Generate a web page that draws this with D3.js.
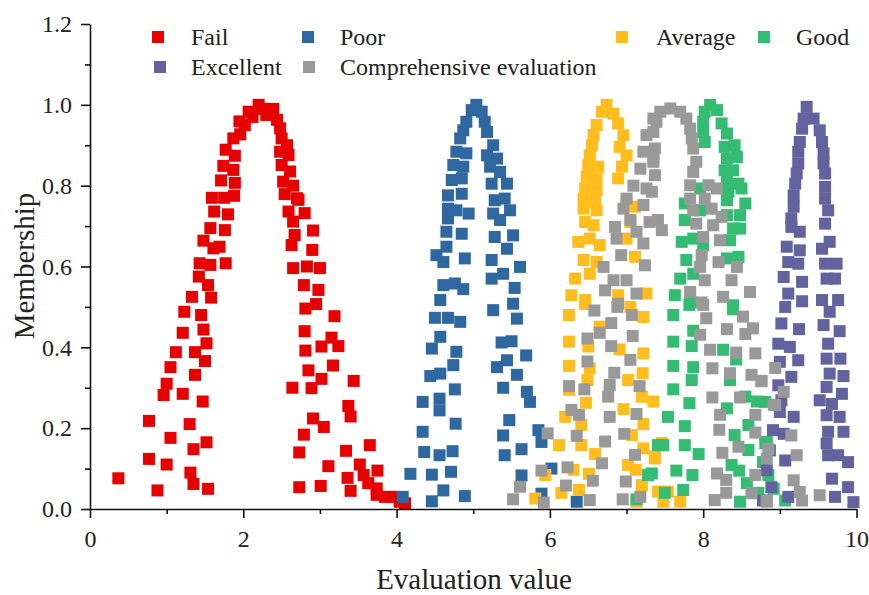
<!DOCTYPE html>
<html><head><meta charset="utf-8">
<script src="https://cdn.jsdelivr.net/npm/d3@7"></script>
<style>body{margin:0;background:#fff}svg{display:block}text{font-family:"Liberation Serif","Times New Roman",serif}</style>
</head><body><svg id="c" width="869" height="595"></svg>
<script>
const seriesNames = ["Fail","Poor","Average","Good","Excellent","Comprehensive evaluation"];
const seriesColors = ["#E60000","#2F67A0","#FFBE1E","#34BD72","#62629E","#999999"];
const xTicks = [0,2,4,6,8,10];
const yTicks = [0,0.2,0.4,0.6,0.8,1.0,1.2];
const xTitle = "Evaluation value";
const yTitle = "Membership";

const failData = [[0.37,0.076],[0.77,0.218],[0.77,0.124],[0.88,0.046],[1.00,0.11],[1.05,0.176],[0.96,0.282],[1.00,0.31],[1.05,0.351],[1.12,0.388],[1.21,0.436],[1.23,0.488],[1.21,0.285],[1.30,0.21],[1.31,0.09],[1.35,0.062],[1.35,0.148],[1.52,0.165],[1.54,0.05],[1.47,0.266],[1.37,0.332],[1.50,0.366],[1.37,0.388],[1.52,0.41],[1.48,0.444],[1.45,0.48],
[1.33,0.525],[1.58,0.523],[1.42,0.575],[1.54,0.554],[1.43,0.608],[1.57,0.604],[1.77,0.608],[1.48,0.664],[1.61,0.645],[1.69,0.649],[1.57,0.695],[1.76,0.69],[1.62,0.736],[1.80,0.729],[1.59,0.77],[1.75,0.77],[1.88,0.775],[1.71,0.813],[1.89,0.807],[1.74,0.849],[1.87,0.839],[1.77,0.889],[1.89,0.874],[1.87,0.917],[1.96,0.927],[1.95,0.959],[2.02,0.95],[2.07,0.983],[2.12,0.97],[2.20,1.0],[2.25,0.99],
[2.30,0.975],[2.35,0.98],[2.39,0.99],[2.44,0.963],[2.48,0.942],[2.50,0.917],[2.57,0.90],[2.48,0.884],[2.59,0.876],[2.50,0.851],[2.61,0.835],[2.52,0.81],[2.65,0.80],[2.54,0.779],[2.70,0.769],[2.59,0.736],[2.65,0.711],[2.63,0.653],[2.65,0.596],
[2.83,0.60],[3.00,0.596],[2.79,0.554],[2.98,0.542],[2.90,0.641],[2.91,0.689],[2.80,0.732],[2.72,0.765],[2.67,0.678],
[2.64,0.30],[2.73,0.054],[2.73,0.14],[2.79,0.184],[2.91,0.224],[3.05,0.203],[3.01,0.057],[3.11,0.106],[2.89,0.299],[2.85,0.343],[3.02,0.322],[3.17,0.355],[2.81,0.392],[2.80,0.44],[3.02,0.402],[3.15,0.424],[3.24,0.403],[3.19,0.477],[2.81,0.496],[2.95,0.507],[3.44,0.317],[3.37,0.255],[3.40,0.229],[3.34,0.144],[3.36,0.077],[3.40,0.045],[3.52,0.11],[3.57,0.084],[3.65,0.158],[3.75,0.095],[3.63,0.064],[3.74,0.051],[3.74,0.035],[3.85,0.03],[3.96,0.03],[4.04,0.018],[4.11,0.014]];

const poorData = [[5.04,1.0],[4.98,0.987],[5.11,0.983],[4.91,0.958],[5.15,0.958],[4.87,0.937],[5.18,0.933],[4.83,0.917],[5.26,0.90],[4.78,0.884],[4.91,0.88],[5.18,0.875],[5.31,0.867],[4.74,0.851],[4.87,0.847],[5.22,0.847],[5.35,0.834],[4.72,0.814],[4.85,0.818],[5.24,0.805],[5.44,0.805],[4.67,0.776],[4.85,0.78],[5.28,0.764],[5.41,0.768],[4.67,0.743],[4.78,0.739],[4.94,0.731],[5.26,0.731],[5.48,0.739],[4.67,0.719],[5.35,0.715],[4.65,0.686],[4.85,0.681],[5.28,0.673],[5.52,0.677],[4.65,0.649],[5.44,0.644],[4.52,0.628],[4.61,0.611],[4.89,0.62],[5.24,0.616],[5.61,0.599],[5.39,0.582],[5.24,0.57],[4.61,0.554],[4.76,0.558],[4.87,0.544],[5.54,0.547],[4.57,0.517],[5.26,0.492],[5.52,0.508],[5.57,0.471],[4.50,0.473],[4.67,0.473],[4.83,0.463],[4.57,0.426],[4.46,0.397],[4.78,0.389],[5.37,0.412],[5.50,0.415],[5.69,0.38],[4.74,0.356],[4.57,0.335],[4.44,0.329],[5.31,0.351],[5.44,0.368],[5.57,0.332],[4.76,0.296],[5.39,0.30],[5.70,0.29],[5.74,0.265],[4.34,0.265],[4.56,0.273],[4.56,0.244],[4.77,0.211],[5.47,0.22],[4.34,0.191],[5.39,0.182],[5.85,0.195],[5.89,0.166],[4.36,0.141],[4.56,0.133],[4.73,0.143],[5.41,0.133],[5.63,0.148],[4.18,0.087],[4.46,0.085],[4.71,0.092],[5.63,0.083],[6.02,0.10],[4.61,0.046],[4.89,0.032],[4.46,0.019],[4.08,0.03],[5.89,0.038],[6.35,0.018]];

const averageData = [[6.74,1.0],[6.68,0.983],[6.83,0.978],[6.61,0.95],[6.89,0.954],[6.57,0.925],[6.96,0.925],[6.55,0.90],[6.91,0.896],[6.52,0.875],[7.00,0.875],[6.50,0.851],[6.63,0.847],[6.94,0.847],[6.48,0.822],[6.61,0.818],[6.89,0.818],[6.46,0.793],[6.61,0.789],[6.44,0.768],[6.59,0.76],[7.00,0.76],[6.44,0.743],[6.61,0.739],[7.11,0.748],[6.46,0.71],[6.57,0.702],[7.05,0.71],[6.37,0.661],[6.52,0.669],[6.65,0.653],[7.00,0.669],[6.44,0.616],[6.61,0.611],[7.11,0.624],[6.33,0.57],[6.52,0.582],[6.28,0.529],[6.46,0.517],[6.89,0.529],[7.26,0.533],
[6.25,0.48],[6.46,0.507],[6.65,0.451],[7.22,0.475],[7.05,0.50],[6.25,0.414],[6.50,0.402],[6.91,0.395],[7.22,0.385],[6.25,0.354],[6.52,0.348],[7.21,0.336],[6.49,0.319],[7.02,0.319],[6.25,0.295],[7.20,0.278],[6.47,0.263],[7.35,0.266],[6.96,0.247],[6.20,0.228],[6.41,0.208],[7.22,0.21],[6.12,0.158],[6.41,0.158],[7.07,0.183],[6.59,0.136],[7.22,0.15],[7.37,0.125],[5.94,0.084],[6.31,0.097],[6.51,0.087],[7.02,0.109],[7.12,0.097],[7.20,0.059],[5.81,0.026],[6.15,0.04],[6.38,0.047],[7.13,0.018],
[7.46,0.163],[7.37,0.13],[7.41,0.043],[7.54,0.043],[7.48,0.018],[7.70,0.018]];

const goodData = [[8.09,1.0],[8.02,0.983],[8.18,0.987],[8.00,0.958],[8.24,0.954],[8.00,0.933],[8.31,0.929],[8.02,0.908],[8.28,0.896],[8.41,0.90],[8.31,0.867],[8.44,0.871],[8.28,0.838],[8.39,0.838],[8.31,0.809],[8.46,0.805],[8.33,0.785],[8.50,0.793],[8.31,0.764],[8.55,0.756],[7.76,0.756],[7.96,0.793],[8.31,0.727],[8.48,0.727],[7.76,0.715],[7.96,0.739],[8.39,0.694],[8.48,0.694],[7.72,0.661],[7.87,0.669],[8.00,0.653],[8.35,0.665],[7.78,0.616],[8.31,0.62],[8.46,0.624],[7.87,0.582],[7.70,0.57],[7.63,0.529],[7.83,0.512],[8.39,0.504],
[7.61,0.48],[7.82,0.505],[7.87,0.441],[8.39,0.494],[7.61,0.414],[7.85,0.403],[8.26,0.394],[8.43,0.37],[7.61,0.354],[7.87,0.351],[8.35,0.319],[7.61,0.296],[7.85,0.319],[8.55,0.278],[8.70,0.266],[7.82,0.262],[8.31,0.249],[7.54,0.228],[7.76,0.205],[8.59,0.208],[8.41,0.183],[7.48,0.158],[7.76,0.158],[7.94,0.136],[8.59,0.146],[8.81,0.163],[7.65,0.095],[7.86,0.084],[8.37,0.109],[8.47,0.095],[7.33,0.088],[7.50,0.04],[7.74,0.047],[8.57,0.064],[8.85,0.084],[8.48,0.018],[8.72,0.04],[7.28,0.084],[7.41,0.158],[7.13,0.024],[8.81,0.265],[8.83,0.166],[8.78,0.116],[8.92,0.05],[9.07,0.021]];

const excellentData = [[9.35,0.995],[9.31,0.966],[9.44,0.966],[9.29,0.941],[9.52,0.937],[9.26,0.908],[9.55,0.908],[9.24,0.884],[9.57,0.88],[9.24,0.855],[9.57,0.855],[9.22,0.83],[9.59,0.83],[9.20,0.805],[9.59,0.797],[9.18,0.776],[9.59,0.768],[9.18,0.748],[9.63,0.739],[9.15,0.719],[9.59,0.706],[9.15,0.698],[9.26,0.686],[9.65,0.661],[9.09,0.649],[9.26,0.64],[9.55,0.644],[9.11,0.611],[9.24,0.607],[9.59,0.607],[9.74,0.607],[9.05,0.574],[9.61,0.57],[9.72,0.57],[9.29,0.562],[9.11,0.533],[9.07,0.50],[9.29,0.514],[9.55,0.517],[9.76,0.517],[9.65,0.488],[9.02,0.459],[9.25,0.445],[9.57,0.455],[9.78,0.44],[8.98,0.409],[9.13,0.401],[9.63,0.409],[9.24,0.368],[9.00,0.364],[9.61,0.372],[9.79,0.372],[9.15,0.327],[9.65,0.335],[9.83,0.329],[8.98,0.306],[9.61,0.302],[9.81,0.285],[9.02,0.269],[9.52,0.269],[9.68,0.26],[9.00,0.24],[9.18,0.228],[9.61,0.232],[9.78,0.228],[8.91,0.195],[9.05,0.186],[9.63,0.191],[9.83,0.191],[8.87,0.145],[9.07,0.12],[9.61,0.162],[9.63,0.133],[9.76,0.133],[9.89,0.116],[8.83,0.096],[8.89,0.054],[9.68,0.075],[9.89,0.054],[9.11,0.03],[9.72,0.03],[9.96,0.017],[8.78,0.021]];

const comprehensiveData = [[7.57,0.991],[7.44,0.983],[7.70,0.983],[7.39,0.958],[7.78,0.966],[7.35,0.933],[7.83,0.941],[7.85,0.917],[7.37,0.892],[7.87,0.892],[7.35,0.859],[7.91,0.859],[7.37,0.826],[7.87,0.834],[7.83,0.801],[8.07,0.801],[7.33,0.785],[7.83,0.768],[8.02,0.768],[8.18,0.793],[7.87,0.739],[8.11,0.743],[7.41,0.715],[8.24,0.723],[7.91,0.706],[8.13,0.702],[7.46,0.69],[8.00,0.673],[8.22,0.665],[7.98,0.628],[8.20,0.611],[7.96,0.599],[8.44,0.599],[8.02,0.566],[8.37,0.566],[7.83,0.537],[8.26,0.525],[8.61,0.537],[7.98,0.511],
[7.35,0.966],[7.26,0.925],[7.22,0.884],[7.35,0.867],[7.18,0.842],[7.09,0.80],[7.26,0.793],[7.00,0.768],[7.22,0.752],[6.96,0.743],[7.05,0.715],[7.30,0.71],[6.85,0.698],[7.13,0.686],[6.87,0.669],[7.22,0.657],[6.93,0.628],[7.24,0.603],[6.70,0.599],[6.83,0.566],[7.00,0.566],[6.72,0.541],[7.13,0.533],[6.89,0.508],
[6.58,0.491],[6.88,0.50],[7.07,0.48],[6.49,0.422],[6.65,0.436],[6.80,0.46],[7.08,0.428],[6.80,0.403],[6.49,0.365],[7.05,0.369],[6.84,0.337],[6.78,0.307],[6.25,0.304],[6.45,0.296],[7.17,0.304],[6.76,0.278],[6.28,0.245],[6.38,0.233],[6.78,0.228],[7.13,0.235],[5.97,0.187],[6.35,0.181],[6.72,0.167],[6.97,0.186],[6.68,0.113],[7.11,0.134],[5.89,0.095],[6.23,0.103],[6.56,0.07],[6.21,0.058],[6.99,0.068],[5.92,0.016],[6.52,0.022],[6.95,0.024],[7.18,0.03],[5.52,0.024],[5.61,0.055],
[8.00,0.505],[8.04,0.472],[7.96,0.431],[8.31,0.445],[8.55,0.433],[8.65,0.447],[8.52,0.476],[8.09,0.394],[8.43,0.387],[8.68,0.385],[8.12,0.348],[8.35,0.336],[8.63,0.332],[8.76,0.317],[8.12,0.276],[8.48,0.276],[8.94,0.257],[8.22,0.233],[8.68,0.233],[8.21,0.196],[8.68,0.189],[8.46,0.154],[8.25,0.139],[8.83,0.125],[8.18,0.088],[8.30,0.072],[8.68,0.084],[8.30,0.04],[8.15,0.022],[8.63,0.039],[8.83,0.018],
[8.94,0.349],[8.76,0.316],[9.05,0.29],[8.92,0.258],[9.15,0.182],[8.85,0.149],[9.22,0.133],[9.18,0.071],[9.26,0.042],[9.52,0.034],[8.83,0.021],[9.29,0.021]];

const allData = [failData, poorData, averageData, goodData, excellentData, comprehensiveData];

const svg = d3.select("#c");
const x = d3.scaleLinear().domain([0,10]).range([90,856.5]);
const y = d3.scaleLinear().domain([0,1.2]).range([509,24]);
const msize = 12;

// points
allData.forEach((data,i)=>{
  svg.append("g").selectAll("rect").data(data).join("rect")
    .attr("x",d=>x(d[0])-msize/2).attr("y",d=>y(d[1])-msize/2)
    .attr("width",msize).attr("height",msize)
    .attr("fill",seriesColors[i]);
});

// axes
const fmtX = d3.format("d"), fmtY = d3.format(".1f");
const gx = svg.append("g").attr("transform","translate(0,509)")
  .call(d3.axisBottom(x).tickValues(xTicks).tickFormat(fmtX).tickSize(9).tickSizeOuter(0).tickPadding(12));
const gxm = svg.append("g").attr("transform","translate(0,509)")
  .call(d3.axisBottom(x).tickValues([1,3,5,7,9]).tickFormat("").tickSize(5).tickSizeOuter(0));
gxm.select(".domain").remove();
const gy = svg.append("g").attr("transform","translate(90,0)")
  .call(d3.axisLeft(y).tickValues(yTicks).tickFormat(fmtY).tickSize(9).tickSizeOuter(0).tickPadding(9));
const gym = svg.append("g").attr("transform","translate(90,0)")
  .call(d3.axisLeft(y).tickValues([0.1,0.3,0.5,0.7,0.9,1.1]).tickFormat("").tickSize(5).tickSizeOuter(0));
gym.select(".domain").remove();
[gx,gxm,gy,gym].forEach(g=>{
  g.selectAll("path,line").attr("stroke","#111").attr("stroke-width",1.6);
  g.selectAll("text").attr("font-family","Liberation Serif, serif").attr("font-size",24).attr("fill","#222");
});

svg.append("text").attr("x",474).attr("y",589).attr("text-anchor","middle")
  .attr("font-size",29).attr("fill","#222").text(xTitle);
svg.append("text").attr("transform","translate(34,266) rotate(-90)").attr("text-anchor","middle")
  .attr("font-size",29).attr("fill","#222").text(yTitle);

// legend
const legendPos = [[158,37,191,45],[308,37,340,45],[622,37,656,45],[764,37,796,45],[160,67,191,75],[309,67,340,75]];
seriesNames.forEach((n,i)=>{
  const p = legendPos[i];
  svg.append("rect").attr("x",p[0]-6).attr("y",p[1]-6).attr("width",12).attr("height",12).attr("fill",seriesColors[i]);
  svg.append("text").attr("x",p[2]).attr("y",p[3]).attr("font-size",24).attr("fill","#222").text(n);
});
</script></body></html>
